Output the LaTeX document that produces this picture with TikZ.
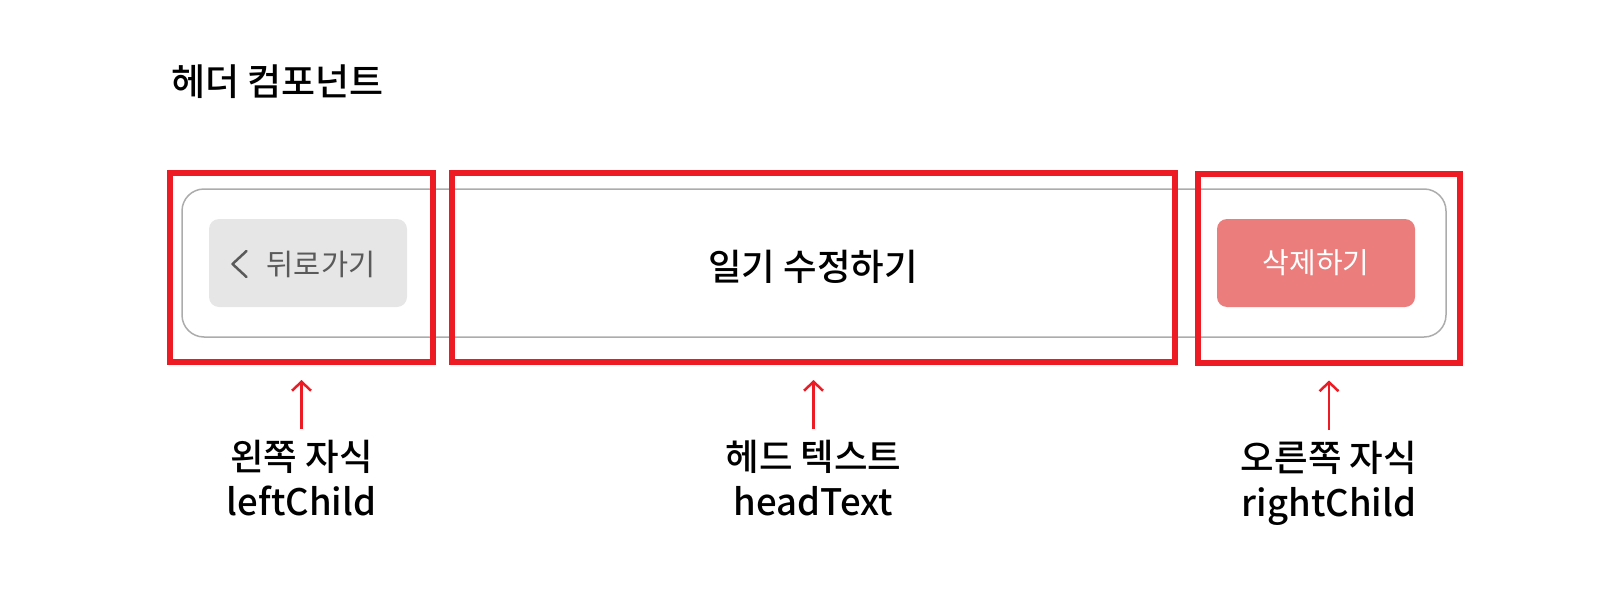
\documentclass[tikz,border=0pt]{standalone}
\usepackage{fontspec}
\setmainfont{Noto Sans CJK KR}[BoldFont={Noto Sans CJK KR Medium}]
\usetikzlibrary{arrows.meta,positioning}

\definecolor{markred}{RGB}{237,28,36}
\definecolor{bargray}{RGB}{172,172,172}
\definecolor{backfill}{RGB}{230,230,230}
\definecolor{backtext}{RGB}{90,90,90}
\definecolor{delfill}{RGB}{235,125,125}

\begin{document}
\begin{tikzpicture}[x=1pt, y=1pt,
    every node/.style={inner sep=0pt},
    redframe/.style={draw=markred, line width=6pt, minimum height=189pt},
    btn/.style={rounded corners=10pt, minimum width=198pt, minimum height=88pt, font=\fontsize{29}{34}\selectfont},
    labeltext/.style={align=center, font=\fontsize{36.5}{45}\selectfont\bfseries},
    pointer/.style={draw=markred, line width=2.5pt, -{Straight Barb[length=9pt, width=19pt]}}]
    \useasboundingbox (0,0) rectangle (1608,-594);
    % title
    \node (title) [anchor=west, font=\fontsize{37}{42}\selectfont\bfseries] at (171,-82) {헤더 컴포넌트};
    % header bar
    \node (bar) [draw=bargray, line width=1.5pt, rounded corners=22pt, minimum width=1264pt, minimum height=148pt] at (814,-263) {};
    \node (backbtn) [btn, fill=backfill] at (308,-263) {};
    \node (backlbl) [text=backtext, font=\fontsize{29.5}{34}\selectfont] at (321,-264) {뒤로가기};
    \draw[backtext, line width=2.5pt, line cap=round, line join=round] ([xshift=-20pt, yshift=13pt]backlbl.west) -- ++(-14,-13) -- ++(14,-13);
    \node (headtxt) [font=\fontsize{36.5}{42}\selectfont\bfseries] at (813,-267) {일기 수정하기};
    \node (delbtn) [btn, fill=delfill, text=white] at (1316,-263) {삭제하기};
    % frames
    \node (leftbox) [redframe, minimum width=263pt] at (301.5,-267.5) {};
    \node (headbox) [redframe, minimum width=723pt] at (813.5,-267.5) {};
    \node (rightbox) [redframe, minimum width=262pt] at (1329,-268) {};
    % labels
    \node (leftlbl) [labeltext, below=75pt of leftbox] {왼쪽 자식\\leftChild};
    \node (headlbl) [labeltext, below=75pt of headbox] {헤드 텍스트\\headText};
    \node (rightlbl) [labeltext, below=75pt of rightbox] {오른쪽 자식\\rightChild};
    \draw[pointer] ([yshift=11pt]leftlbl.north) -- ([yshift=-15pt]leftbox.south);
    \draw[pointer] ([yshift=11pt]headlbl.north) -- ([yshift=-15pt]headbox.south);
    \draw[pointer] ([yshift=11pt]rightlbl.north) -- ([yshift=-15pt]rightbox.south);
\end{tikzpicture}
\end{document}
